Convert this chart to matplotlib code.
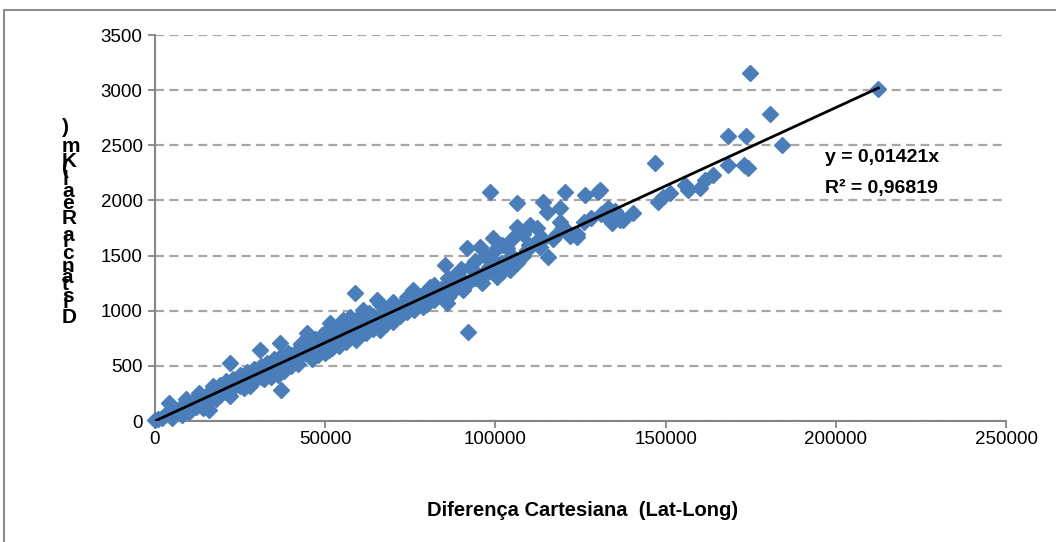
"""
Distância real x diferença cartesiana (Lat-Long), com linha de tendência.
"""

import matplotlib
matplotlib.use("Agg")
import matplotlib.pyplot as plt
from matplotlib.patches import Rectangle
from matplotlib.font_manager import FontProperties
from matplotlib.textpath import TextToPath

plt.rcParams.update({
    'font.family': 'sans-serif',
    'font.sans-serif': ['Liberation Sans', 'DejaVu Sans'],
})

# ---------------------------------------------------------------------------
# Dados: x em milhares, y em km
# ---------------------------------------------------------------------------
x_mil = [
    0, 1, 2, 3, 4, 5, 6, 7, 8, 8, 9, 10, 11, 12, 12, 13, 14, 15, 16, 16,
    17, 18, 19, 20, 21, 22, 22, 23, 24, 25, 26, 27, 28, 29, 30, 30.8, 31, 32, 33, 34,
    35, 36, 36.7, 37, 37, 38, 39, 40,
    5, 10, 14, 18, 22, 26, 28, 32, 34, 36, 38, 40,
    41, 42, 43, 44, 44.7, 45, 46, 47, 48, 49, 50, 51, 51.4, 52, 53, 53.5, 54, 55, 55.2, 56,
    57, 57.3, 58, 58.8, 59, 60, 61, 61.1, 62, 63, 63.2, 64, 65, 65.2, 66, 67, 67, 68, 69, 70,
    71, 72, 73, 74, 75, 75.8, 76, 77, 78, 78.7, 79, 80, 80.8, 82, 83.7, 84, 85.2, 85.8, 86, 87.6,
    88, 90, 90.5, 91.7, 92, 92.5, 94, 95.5, 96, 96.4, 98, 98.4, 98.4, 99.3, 100.5, 101.6, 103.4, 104.3,
    106.4, 106.4, 106.4, 108, 109.3, 110.2, 112.2, 113.1, 114, 115.2, 115.5, 117, 119, 119, 120.5,
    122, 124, 124, 126.3, 130.2, 130.7, 133.1, 133.1, 134.3, 136.6, 137.5, 140.4,
    146.9, 147.8, 149.3, 151.3, 155.7, 156.6, 160.1, 161.6, 163.9, 168.3, 168.4, 173, 173.6,
    174.2, 174.8, 180.7, 184.1, 212.5,
    42, 46, 48, 50, 52, 54, 56, 60, 62, 64, 66, 68, 70, 72, 74, 76, 80, 82, 84, 86,
    88, 92, 94, 97, 100, 102, 104, 105, 108, 110, 112, 114, 118, 120, 122, 126, 128, 131, 135,
    45, 50, 55, 60, 63, 66, 70, 76, 82, 86, 90, 94, 97, 100, 102, 105,
    9, 13, 17, 19, 21, 23, 25, 27, 29, 31, 33, 35, 37, 39, 43, 47, 49, 53, 57, 59,
]
dist_km = [
    5, 20, 30, 50, 163, 60, 90, 110, 54, 130, 100, 150, 170, 130, 190, 210, 160, 230, 100, 250,
    220, 280, 240, 300, 260, 526, 340, 300, 380, 320, 400, 350, 420, 360, 460, 644, 400, 480, 420, 500,
    440, 540, 707, 281, 480, 560, 500, 600,
    30, 80, 120, 200, 230, 300, 320, 380, 400, 420, 450, 500,
    550, 640, 700, 620, 798, 680, 600, 720, 660, 760, 700, 640, 888, 760, 700, 762, 800, 740, 916, 820,
    780, 943, 860, 1160, 734, 880, 820, 1006, 900, 860, 888, 950, 900, 1097, 825, 980, 1034, 940, 1010, 960,
    1034, 1020, 1060, 1124, 1040, 1188, 1100, 1080, 1130, 1034, 1150, 1120, 1215, 1180, 1142, 1200, 1414, 1070, 1240, 1306,
    1260, 1300, 1188, 1569, 807, 1396, 1350, 1578, 1251, 1306, 1400, 1487, 2076, 1659, 1306, 1433, 1569, 1369,
    1433, 1977, 1759, 1500, 1550, 1777, 1750, 1578, 1986, 1895, 1487, 1650, 1931, 1804, 2076,
    1700, 1668, 1700, 2049, 2076, 2095, 1840, 1931, 1795, 1822, 1822, 1886,
    2342, 1986, 2031, 2067, 2140, 2095, 2113, 2185, 2230, 2321, 2584, 2321, 2584,
    2294, 3155, 2784, 2502, 3008,
    520, 560, 600, 620, 660, 680, 720, 780, 800, 830, 860, 880, 900, 950, 990, 1010, 1060, 1100, 1150, 1120,
    1200, 1250, 1300, 1350, 1380, 1350, 1420, 1500, 1700, 1600, 1620, 1650, 1700, 1760, 1680, 1800, 1840, 1880, 1900,
    760, 800, 850, 940, 980, 1060, 1080, 1160, 1230, 1300, 1380, 1450, 1500, 1550, 1600, 1650,
    200, 250, 320, 330, 360, 380, 420, 440, 470, 500, 530, 560, 590, 620, 700, 740, 780, 820, 880, 900,
]
x_cart = [v * 1000 for v in x_mil]

slope = 0.01421
r2 = 0.96819
trend_x = [0, 212500]

y_ticks = [0, 500, 1000, 1500, 2000, 2500, 3000, 3500]
x_ticks = [0, 50000, 100000, 150000, 200000, 250000]

W, H = 1056, 542
fig = plt.figure(figsize=(W / 100, H / 100), dpi=100, facecolor="white")

# Moldura externa do gráfico (estilo Excel)
fig.patches.append(Rectangle((4 / W, -0.05), 1.1, (H - 10) / H + 0.05,
                             transform=fig.transFigure, fill=False,
                             edgecolor="#8c8c8c", lw=1.5))

ax = fig.add_axes([155 / W, (H - 421) / H, (1006 - 155) / W, (421 - 35) / H])

ax.plot(x_cart, dist_km, ls="none", marker="D", ms=8.5, color="#4a7ebb",
        markeredgecolor="#4a7ebb", zorder=3, clip_on=False)
ax.plot(trend_x, [slope * v for v in trend_x], color="black", lw=2, zorder=4)

ax.set_xlim(0, 250000)
ax.set_ylim(0, 3500)
ax.set_xticks(x_ticks)
ax.set_yticks(y_ticks)
ax.tick_params(axis="both", labelsize=13.5, color="#868686", length=5,
               width=1.3, direction="out")
ax.tick_params(axis="x", pad=2)
ax.tick_params(axis="y", pad=4)

for side in ("top", "right"):
    ax.spines[side].set_visible(False)
for side in ("left", "bottom"):
    ax.spines[side].set_color("#868686")
    ax.spines[side].set_linewidth(1.5)

ax.yaxis.grid(True, ls=(0, (4, 2.5)), color="#a6a6a6", lw=1.6)
ax.set_axisbelow(True)

# Equação da tendência
fig.text(825 / W, 1 - 158 / H, f"y = {slope:.5f}x".replace(".", ","),
         fontsize=14, fontweight="bold", ha="left", va="center")
fig.text(825 / W, 1 - 188 / H, f"R² = {r2:.5f}".replace(".", ","),
         fontsize=14, fontweight="bold", ha="left", va="center")

# Rótulo do eixo x
fig.text(583 / W, 1 - 510 / H, "Diferença Cartesiana  (Lat-Long)",
         fontsize=14.5, fontweight="bold", ha="center", va="center")

# Rótulo do eixo y: letras empilhadas (como no original)
ylabel = "Distância Real (Km)"
prop = FontProperties(family="Liberation Sans", weight="bold", size=15)
t2p = TextToPath()
widths = [t2p.get_text_width_height_descent(ch, prop, ismath=False)[0] for ch in ylabel]
total = sum(widths)
y_bottom, y_top = 327, 130
pos = y_bottom
for ch, w in zip(ylabel, widths):
    fig.text(62 / W, 1 - pos / H, ch, fontproperties=prop, ha="left", va="bottom")
    pos -= w / total * (y_bottom - y_top)

fig.savefig("out.png", dpi=100, facecolor="white")
